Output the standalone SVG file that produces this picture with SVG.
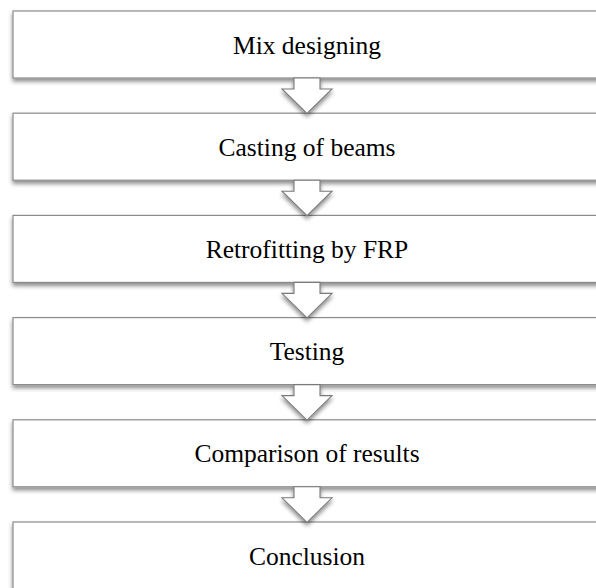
<svg xmlns="http://www.w3.org/2000/svg" width="596" height="588" viewBox="0 0 596 588">
  <defs>
    <filter id="sh" x="-5%" y="-10%" width="110%" height="140%">
      <feDropShadow dx="0" dy="3" stdDeviation="2.2" flood-color="#000" flood-opacity="0.45"/>
    </filter>
    <path id="arr" d="M294,78 H320 V89 H332 L307,113.5 L282,89 H294 Z"/>
  </defs>
  <style>
    .box { fill: #ffffff; stroke: #8c8c8c; stroke-width: 1.2; filter: url(#sh); }
    .arrow { fill: #ffffff; stroke: #7a7a7a; stroke-width: 1.1; stroke-linejoin: miter; filter: url(#sh); }
    .lbl { font-family: "Liberation Serif", "Times New Roman", serif; font-size: 25.5px; fill: #000; text-anchor: middle; }
  </style>
  <rect width="596" height="588" fill="#ffffff"/>
  <g id="n1"><rect class="box" x="13" y="11" width="590" height="67"/><text class="lbl" x="307" y="53.5">Mix designing</text></g>
  <g id="n2"><rect class="box" x="13" y="113.2" width="590" height="67"/><text class="lbl" x="307" y="155.7">Casting of beams</text></g>
  <g id="n3"><rect class="box" x="13" y="215.4" width="590" height="67"/><text class="lbl" x="307" y="257.9">Retrofitting by FRP</text></g>
  <g id="n4"><rect class="box" x="13" y="317.6" width="590" height="67"/><text class="lbl" x="307" y="360.1">Testing</text></g>
  <g id="n5"><rect class="box" x="13" y="419.8" width="590" height="67"/><text class="lbl" x="307" y="462.3">Comparison of results</text></g>
  <g id="n6"><rect class="box" x="13" y="522" width="590" height="67"/><text class="lbl" x="307" y="564.5">Conclusion</text></g>
  <g id="connectors">
    <use href="#arr" class="arrow"/>
    <use href="#arr" class="arrow" transform="translate(0,102.2)"/>
    <use href="#arr" class="arrow" transform="translate(0,204.4)"/>
    <use href="#arr" class="arrow" transform="translate(0,306.6)"/>
    <use href="#arr" class="arrow" transform="translate(0,408.8)"/>
  </g>
</svg>
